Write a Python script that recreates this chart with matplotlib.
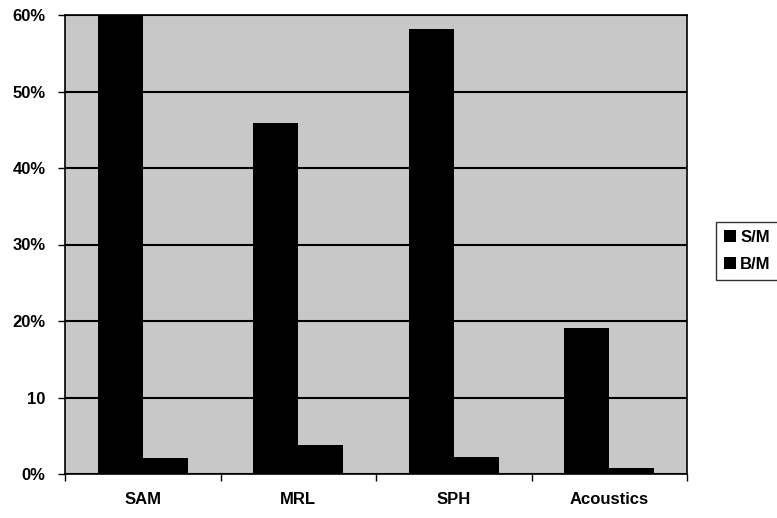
import matplotlib
matplotlib.use("Agg")
import matplotlib.pyplot as plt
import numpy as np
from matplotlib.ticker import FixedLocator, FixedFormatter

categories = ["SAM", "MRL", "SPH", "Acoustics"]
series_names = ["S/M", "B/M"]
sm_values = [60.0, 45.9, 58.2, 19.1]
bm_values = [2.1, 3.8, 2.2, 0.8]
ytick_values = [0, 10, 20, 30, 40, 50, 60]
ytick_labels = ["0%", "10", "20%", "30%", "40%", "50%", "60%"]

plt.rcParams['font.family'] = ['Liberation Sans', 'DejaVu Sans']

fig = plt.figure(figsize=(7.77, 5.18), dpi=100)
ax = fig.add_axes([65/777, 1 - 474/518, (687-65)/777, (474-15)/518])

x = np.arange(len(categories))
w = 0.29
ax.set_facecolor("#c8c8c8")
ax.bar(x - w/2, sm_values, width=w, color="black", label=series_names[0], zorder=3)
ax.bar(x + w/2, bm_values, width=w, color="black", label=series_names[1], zorder=3)

ax.set_xlim(-0.5, len(categories) - 0.5)
ax.set_ylim(0, 60)

ax.yaxis.set_major_locator(FixedLocator(ytick_values))
ax.yaxis.set_major_formatter(FixedFormatter(ytick_labels))
ax.grid(axis="y", color="black", linewidth=1.5, zorder=1)
ax.set_axisbelow(True)

ax.set_xticks(x)
ax.set_xticklabels(categories)
ax.set_xticks(np.arange(len(categories) + 1) - 0.5, minor=True)
ax.tick_params(axis="x", which="major", length=0, pad=13, labelsize=12)
ax.tick_params(axis="x", which="minor", length=5, width=1, direction="out")
ax.tick_params(axis="y", length=5, width=1, direction="out", pad=9, labelsize=12)
for lab in ax.get_xticklabels() + ax.get_yticklabels():
    lab.set_fontweight("bold")

for s in ax.spines.values():
    s.set_color("black")
    s.set_linewidth(1.2)

leg = fig.legend(loc="upper left", bbox_to_anchor=(716/777, 1 - 222/518),
                 frameon=True, fancybox=False, shadow=False,
                 handlelength=0.75, handleheight=0.75, handletextpad=0.25,
                 borderpad=0.45, labelspacing=0.75, borderaxespad=0,
                 prop={"weight": "bold", "size": 12})
leg.get_frame().set_edgecolor("black")
leg.get_frame().set_linewidth(1.0)

fig.savefig("out.png", dpi=100)
